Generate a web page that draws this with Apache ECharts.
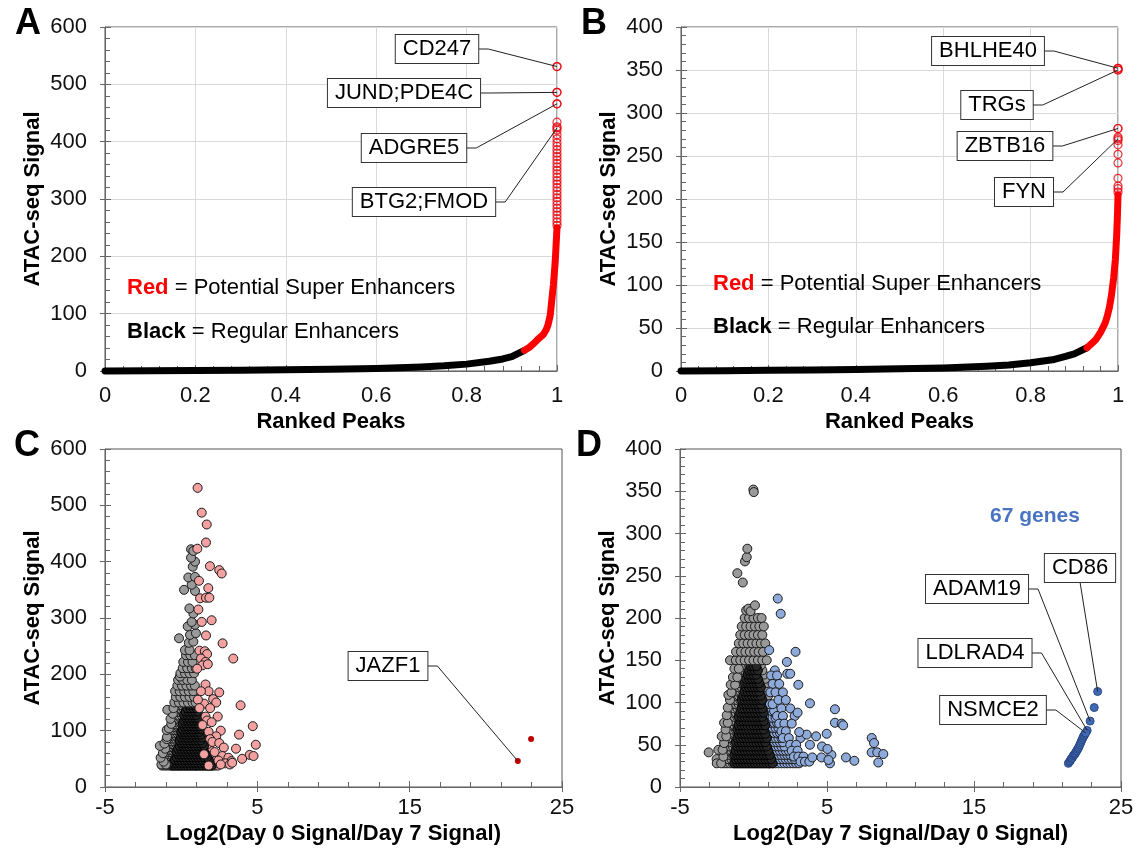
<!DOCTYPE html>
<html>
<head>
<meta charset="utf-8">
<script src="https://cdn.jsdelivr.net/npm/echarts@6/dist/echarts.min.js"></script>
<style>
html,body{margin:0;padding:0;background:#fff;}
#chart{width:1142px;height:859px;}
</style>
</head>
<body>
<div id="chart"></div>
<script>
// ---------------- DATA ----------------
// Panel A: ranked peaks curve (x = rank fraction, y = ATAC-seq signal)
const aBlack = [[0,0],[0.1,0.5],[0.2,1],[0.3,1.5],[0.4,2],[0.5,3],[0.6,4.5],[0.7,7],[0.75,9],[0.8,12],[0.85,17],[0.88,21],[0.9,25],[0.928,36]];
const aRed = [[0.928,36],[0.94,42],[0.95,49],[0.96,57],[0.97,64],[0.976,72],[0.98,80],[0.985,97],[0.988,120],[0.992,150],[0.996,190],[0.998,220],[1,250]];
const aTop = [531,486,466,434,426,420,412,405,398,392,386,380,374,368,362,356,350,344,338,332,326,320,314,308,302,296,290,284,278,272,266,260,254];
const aLabels = ['CD247','JUND;PDE4C','ADGRE5','BTG2;FMOD'];
const aLabelValues = [[1,531],[1,486],[1,466],[1,424]];

// Panel B
const bBlack = [[0,0],[0.1,0.4],[0.2,0.8],[0.3,1.2],[0.4,1.8],[0.5,2.5],[0.6,3.5],[0.7,5.5],[0.75,7],[0.8,9.5],[0.85,13],[0.88,17],[0.9,20],[0.929,27]];
const bRed = [[0.929,27],[0.94,32],[0.95,37],[0.96,45],[0.97,55],[0.975,63],[0.98,73],[0.985,88],[0.99,108],[0.994,130],[0.997,158],[0.999,185],[1,205]];
const bTop = [352,350,282,272,268,263,252,242,224,215,212,208];
const bLabels = ['BHLHE40','TRGs','ZBTB16','FYN'];
const bLabelValues = [[1,352],[1,350],[1,282],[1,270]];

// Panel C: Log2(Day0/Day7) vs signal — sparse points as [x, signal]
const cGray = [
[-1.3,40],[-1.0,40],[-1.15,45],[-1.35,52],[-1.2,60],[-1.05,68],[-1.4,73],[-1.1,77],[-0.95,85],[-0.93,89],[-0.95,101],[-0.8,104],
[-0.65,112],[-0.7,121],[-0.55,130],[-0.91,137],[-0.5,140],[-0.45,150],[-0.15,150],[0.15,150],[0.45,150],[0.75,150],[0.95,150],
[-0.35,160],[-0.05,160],[0.25,160],[0.55,160],[0.85,160],
[-0.4,170],[-0.1,170],[0.2,170],[0.5,170],[0.8,170],
[-0.25,180],[0.05,180],[0.35,180],[0.65,180],[0.9,180],
[-0.2,190],[0.1,190],[0.4,190],[0.7,190],
[-0.08,196],
[-0.05,202],[0.25,202],[0.55,202],[0.85,202],
[0.1,211],[0.4,211],[0.7,211],[0.95,211],
[0.14,222],[0.45,222],[0.75,222],
[0.32,234],[0.6,234],[0.9,234],
[0.25,243],[0.55,243],
[0.5,256],[0.8,258],
[-0.14,264],
[0.58,270],[0.97,273],
[0.43,285],[0.91,288],
[0.69,293],[0.8,308],[0.54,317],
[0.19,350],[0.91,348],[0.69,359],
[0.47,372],[0.91,373],[0.76,391],[0.91,400],[0.65,407],[0.65,422],[0.8,419]
];
// dense gray / pink bands, one row per signal level: [signal, x1, x2, ...]
const cGrayBandRows = [
[38,-1.25,-1.08,-0.91,-0.74,-0.57,-0.40,-0.23,-0.06,0.11,0.28,0.45,0.62,0.79,0.96],
[42,-1.17,-1.0,-0.83,-0.66,-0.49,-0.32,-0.15,0.02,0.19,0.36,0.53,0.7,0.87],
[46,-1.2,-1.03,-0.86,-0.69,-0.52,-0.35,-0.18,-0.01,0.16,0.33,0.5,0.67,0.84,0.98],
[50,-1.12,-0.95,-0.78,-0.61,-0.44,-0.27,-0.1,0.07,0.24,0.41,0.58,0.75,0.92],
[54,-1.05,-0.88,-0.71,-0.54,-0.37,-0.2,-0.03,0.14,0.31,0.48,0.65,0.82,0.99],
[58,-1.0,-0.83,-0.66,-0.49,-0.32,-0.15,0.02,0.19,0.36,0.53,0.7,0.87],
[62,-0.98,-0.81,-0.64,-0.47,-0.3,-0.13,0.04,0.21,0.38,0.55,0.72,0.89],
[66,-0.92,-0.75,-0.58,-0.41,-0.24,-0.07,0.1,0.27,0.44,0.61,0.78,0.95],
[71,-0.88,-0.71,-0.54,-0.37,-0.2,-0.03,0.14,0.31,0.48,0.65,0.82,0.98],
[76,-0.83,-0.66,-0.49,-0.32,-0.15,0.02,0.19,0.36,0.53,0.7,0.87],
[81,-0.78,-0.61,-0.44,-0.27,-0.1,0.07,0.24,0.41,0.58,0.75,0.92],
[86,-0.72,-0.55,-0.38,-0.21,-0.04,0.13,0.3,0.47,0.64,0.81,0.98],
[91,-0.68,-0.51,-0.34,-0.17,0.0,0.17,0.34,0.51,0.68,0.85],
[96,-0.62,-0.45,-0.28,-0.11,0.06,0.23,0.4,0.57,0.74,0.91],
[101,-0.58,-0.41,-0.24,-0.07,0.1,0.27,0.44,0.61,0.78,0.95],
[106,-0.52,-0.35,-0.18,-0.01,0.16,0.33,0.5,0.67,0.84],
[111,-0.47,-0.3,-0.13,0.04,0.21,0.38,0.55,0.72,0.89],
[116,-0.42,-0.25,-0.08,0.09,0.26,0.43,0.6,0.77,0.94],
[121,-0.36,-0.19,-0.02,0.15,0.32,0.49,0.66,0.83],
[127,-0.3,-0.13,0.04,0.21,0.38,0.55,0.72,0.89],
[133,-0.25,-0.08,0.09,0.26,0.43,0.6,0.77,0.94],
[139,-0.18,-0.01,0.16,0.33,0.5,0.67,0.84],
[145,-0.1,0.07,0.24,0.41,0.58,0.75,0.92]
];
const cPinkBandRows = [
[38,1.05,1.22,1.39,1.56,1.73,1.9,2.07,2.24,2.41],
[42,1.13,1.3,1.47,1.64,1.81,1.98,2.15,2.32],
[46,1.05,1.22,1.39,1.56,1.73,1.9,2.07,2.24],
[50,1.13,1.3,1.47,1.64,1.81,1.98,2.15],
[55,1.05,1.22,1.39,1.56,1.73,1.9,2.07],
[60,1.13,1.3,1.47,1.64,1.81,1.98],
[65,1.05,1.22,1.39,1.56,1.73,1.9],
[70,1.13,1.3,1.47,1.64,1.81],
[76,1.05,1.22,1.39,1.56,1.73],
[82,1.13,1.3,1.47,1.64],
[88,1.05,1.22,1.39,1.56],
[95,1.13,1.3,1.47],
[102,1.05,1.22,1.39],
[110,1.13,1.3],
[118,1.05,1.22]
];
// innermost, heavily overlapped part of the cloud (reads as solid black)
const cCoreRows = [
[38,-0.6,-0.4,-0.2,0.0,0.2,0.4,0.6,0.8,1.0,1.2,1.4,1.6,1.8,2.0],
[43,-0.5,-0.3,-0.1,0.1,0.3,0.5,0.7,0.9,1.1,1.3,1.5,1.7,1.9],
[48,-0.4,-0.2,0.0,0.2,0.4,0.6,0.8,1.0,1.2,1.4,1.6,1.8],
[53,-0.3,-0.1,0.1,0.3,0.5,0.7,0.9,1.1,1.3,1.5,1.7],
[58,-0.2,0.0,0.2,0.4,0.6,0.8,1.0,1.2,1.4,1.6],
[63,-0.3,-0.1,0.1,0.3,0.5,0.7,0.9,1.1,1.3,1.5],
[68,-0.2,0.0,0.2,0.4,0.6,0.8,1.0,1.2,1.4],
[73,-0.1,0.1,0.3,0.5,0.7,0.9,1.1,1.3,1.5],
[78,0.0,0.2,0.4,0.6,0.8,1.0,1.2,1.4],
[83,-0.1,0.1,0.3,0.5,0.7,0.9,1.1,1.3],
[88,0.0,0.2,0.4,0.6,0.8,1.0,1.2,1.4],
[93,0.1,0.3,0.5,0.7,0.9,1.1,1.3],
[98,0.0,0.2,0.4,0.6,0.8,1.0,1.2],
[103,0.1,0.3,0.5,0.7,0.9,1.1,1.3],
[108,0.2,0.4,0.6,0.8,1.0,1.2],
[113,0.1,0.3,0.5,0.7,0.9,1.1],
[118,0.2,0.4,0.6,0.8,1.0,1.2],
[123,0.3,0.5,0.7,0.9,1.1],
[128,0.2,0.4,0.6,0.8,1.0],
[134,0.3,0.5,0.7,0.9,1.1],
[140,0.4,0.6,0.8,1.0],
[146,0.5,0.7,0.9],
[152,0.4,0.6,0.8,1.0],
[158,0.5,0.7,0.9],
[165,0.6,0.8]
];
const cPink = [
[1.08,531],[1.35,487],[1.68,466],[1.63,434],[1.06,423],[1.89,392],[2.5,385],[2.66,379],[1.17,366],[1.78,353],[1.24,335],[1.63,336],[1.85,336],[1.13,315],[1.35,293],[2.0,296],[1.63,269],[2.72,255],[3.42,228],
[1.2,242],[1.55,241],[1.7,236],[1.3,228],[1.6,222],[1.4,216],[1.75,218],[1.05,210],[1.6,182],[1.8,170],[2.5,168],[1.3,170],[2.1,156],[2.3,150],[3.9,145],[1.5,148],[1.1,155],[1.9,140],[1.2,140],[2.4,125],[1.6,125],[1.7,118],[2.0,115],[1.4,110],[4.7,108],[2.6,100],[1.8,98],[2.3,90],[3.8,93],[1.9,85],[2.05,80],[2.5,78],[4.9,75],[2.8,70],[3.6,68],[2.2,62],[4.5,57],[4.75,55],[2.7,55],[3.1,52],[3.3,46],[4.0,50],[2.45,47],[2.9,42],[3.2,40],[2.6,40],[3.35,43],[1.5,58],[1.8,38]
];
const cFar = [[22.97,85]];
const cLabels = ['JAZF1'];
const cLabelValues = [[22.1,46]];

// Panel D: Log2(Day7/Day0) vs signal
const dGray = [
[-3.05,41],[-2.51,33],[-2.5,28],[-2.2,28],[-2.05,36],[-2.39,44],[-2.1,44],[-2.0,52],[-2.16,60],[-1.85,60],[-1.9,68],[-2.0,76],[-1.75,76],
[-1.82,85],[-1.75,94],[-1.6,103],[-1.71,109],[-1.5,112],[-1.55,121],[-1.25,121],[-1.4,130],[-1.1,130],[-1.3,140],[-1.0,140],
[-1.6,150],[-1.2,150],[-0.9,150],[-0.6,150],[-0.3,150],[0.0,150],[0.3,150],[0.6,150],[0.9,150],
[-1.19,160],[-0.85,160],[-0.55,160],[-0.25,160],[0.05,160],[0.35,160],[0.65,160],
[-1.0,170],[-0.7,170],[-0.4,170],[-0.1,170],[0.2,170],[0.5,170],[0.8,170],
[-0.9,180],[-0.6,180],[-0.3,180],[0.0,180],[0.3,180],[0.6,180],
[-0.8,190],[-0.5,190],[-0.2,190],[0.1,190],[0.4,190],[0.7,190],
[-0.6,200],[-0.3,200],[0.0,200],[0.3,200],[0.55,200],
[-0.5,209],[-0.35,211],[-0.2,208],[0.1,215],
[-0.73,242],[-1.1,253],[-0.58,267],[-0.46,272],[-0.42,282],
[-0.01,352],[0.02,349]
];
const dGrayBandRows = [
[28,-2.0,-1.8,-1.6,-1.4,-1.2,-1.0,-0.8,-0.6,-0.4,-0.2,0.0,0.2,0.4,0.6,0.8,1.0],
[33,-1.9,-1.7,-1.5,-1.3,-1.1,-0.9,-0.7,-0.5,-0.3,-0.1,0.1,0.3,0.5,0.7,0.9],
[38,-2.0,-1.8,-1.6,-1.4,-1.2,-1.0,-0.8,-0.6,-0.4,-0.2,0.0,0.2,0.4,0.6,0.8,1.0],
[43,-1.9,-1.7,-1.5,-1.3,-1.1,-0.9,-0.7,-0.5,-0.3,-0.1,0.1,0.3,0.5,0.7,0.9],
[48,-1.8,-1.6,-1.4,-1.2,-1.0,-0.8,-0.6,-0.4,-0.2,0.0,0.2,0.4,0.6,0.8,1.0],
[53,-1.7,-1.5,-1.3,-1.1,-0.9,-0.7,-0.5,-0.3,-0.1,0.1,0.3,0.5,0.7,0.9],
[58,-1.8,-1.6,-1.4,-1.2,-1.0,-0.8,-0.6,-0.4,-0.2,0.0,0.2,0.4,0.6,0.8,1.0],
[63,-1.7,-1.5,-1.3,-1.1,-0.9,-0.7,-0.5,-0.3,-0.1,0.1,0.3,0.5,0.7,0.9],
[68,-1.6,-1.4,-1.2,-1.0,-0.8,-0.6,-0.4,-0.2,0.0,0.2,0.4,0.6,0.8,1.0],
[73,-1.5,-1.3,-1.1,-0.9,-0.7,-0.5,-0.3,-0.1,0.1,0.3,0.5,0.7,0.9],
[78,-1.6,-1.4,-1.2,-1.0,-0.8,-0.6,-0.4,-0.2,0.0,0.2,0.4,0.6,0.8,1.0],
[83,-1.5,-1.3,-1.1,-0.9,-0.7,-0.5,-0.3,-0.1,0.1,0.3,0.5,0.7,0.9],
[88,-1.4,-1.2,-1.0,-0.8,-0.6,-0.4,-0.2,0.0,0.2,0.4,0.6,0.8,1.0],
[93,-1.3,-1.1,-0.9,-0.7,-0.5,-0.3,-0.1,0.1,0.3,0.5,0.7,0.9],
[98,-1.4,-1.2,-1.0,-0.8,-0.6,-0.4,-0.2,0.0,0.2,0.4,0.6,0.8,1.0],
[103,-1.3,-1.1,-0.9,-0.7,-0.5,-0.3,-0.1,0.1,0.3,0.5,0.7,0.9],
[108,-1.2,-1.0,-0.8,-0.6,-0.4,-0.2,0.0,0.2,0.4,0.6,0.8,1.0],
[113,-1.1,-0.9,-0.7,-0.5,-0.3,-0.1,0.1,0.3,0.5,0.7,0.9],
[118,-1.0,-0.8,-0.6,-0.4,-0.2,0.0,0.2,0.4,0.6,0.8],
[123,-0.9,-0.7,-0.5,-0.3,-0.1,0.1,0.3,0.5,0.7,0.9],
[128,-0.8,-0.6,-0.4,-0.2,0.0,0.2,0.4,0.6,0.8],
[133,-0.7,-0.5,-0.3,-0.1,0.1,0.3,0.5,0.7],
[138,-0.6,-0.4,-0.2,0.0,0.2,0.4,0.6],
[144,-0.5,-0.3,-0.1,0.1,0.3,0.5]
];
const dBlueBandRows = [
[28,1.1,1.3,1.5,1.7,1.9,2.1,2.3,2.5,2.7,2.9,3.1],
[33,1.2,1.4,1.6,1.8,2.0,2.2,2.4,2.6,2.8],
[38,1.1,1.3,1.5,1.7,1.9,2.1,2.3,2.5],
[43,1.2,1.4,1.6,1.8,2.0,2.2,2.4],
[48,1.1,1.3,1.5,1.7,1.9,2.1],
[53,1.2,1.4,1.6,1.8,2.0],
[58,1.1,1.3,1.5,1.7,1.9],
[64,1.2,1.4,1.6,1.8],
[70,1.1,1.3,1.5,1.7],
[76,1.2,1.4,1.6],
[82,1.1,1.3,1.5],
[90,1.2,1.4],
[98,1.1,1.3]
];
const dCoreRows = [
[28,-1.3,-1.1,-0.9,-0.7,-0.5,-0.3,-0.1,0.1,0.3,0.5,0.7,0.9,1.1,1.3],
[33,-1.2,-1.0,-0.8,-0.6,-0.4,-0.2,0.0,0.2,0.4,0.6,0.8,1.0,1.2],
[38,-1.3,-1.1,-0.9,-0.7,-0.5,-0.3,-0.1,0.1,0.3,0.5,0.7,0.9,1.1],
[43,-1.2,-1.0,-0.8,-0.6,-0.4,-0.2,0.0,0.2,0.4,0.6,0.8,1.0],
[48,-1.1,-0.9,-0.7,-0.5,-0.3,-0.1,0.1,0.3,0.5,0.7,0.9],
[53,-1.2,-1.0,-0.8,-0.6,-0.4,-0.2,0.0,0.2,0.4,0.6,0.8],
[58,-1.1,-0.9,-0.7,-0.5,-0.3,-0.1,0.1,0.3,0.5,0.7,0.9],
[63,-1.0,-0.8,-0.6,-0.4,-0.2,0.0,0.2,0.4,0.6,0.8],
[68,-1.1,-0.9,-0.7,-0.5,-0.3,-0.1,0.1,0.3,0.5,0.7],
[73,-1.0,-0.8,-0.6,-0.4,-0.2,0.0,0.2,0.4,0.6,0.8],
[78,-0.9,-0.7,-0.5,-0.3,-0.1,0.1,0.3,0.5,0.7],
[83,-1.0,-0.8,-0.6,-0.4,-0.2,0.0,0.2,0.4,0.6],
[88,-0.9,-0.7,-0.5,-0.3,-0.1,0.1,0.3,0.5,0.7],
[93,-0.8,-0.6,-0.4,-0.2,0.0,0.2,0.4,0.6],
[98,-0.7,-0.5,-0.3,-0.1,0.1,0.3,0.5],
[103,-0.8,-0.6,-0.4,-0.2,0.0,0.2,0.4,0.6],
[108,-0.7,-0.5,-0.3,-0.1,0.1,0.3,0.5],
[113,-0.6,-0.4,-0.2,0.0,0.2,0.4],
[118,-0.5,-0.3,-0.1,0.1,0.3,0.5],
[123,-0.6,-0.4,-0.2,0.0,0.2,0.4],
[128,-0.5,-0.3,-0.1,0.1,0.3],
[133,-0.4,-0.2,0.0,0.2],
[138,-0.3,-0.1,0.1,0.3],
[143,-0.2,0.0,0.2]
];
const dBlue = [
[1.65,223],[1.85,205],[1.07,162],[2.86,160],[2.27,148],
[1.45,138],[1.2,132],[1.6,132],[2.3,134],[2.5,134],[3.05,121],
[1.3,122],[1.75,122],[1.15,112],[1.5,112],[2.0,112],
[1.7,103],[2.2,103],[3.84,99],
[1.9,93],[2.5,93],
[1.6,84],[2.0,84],[2.8,84],[3.0,88],
[1.75,75],[2.1,75],[2.6,75],
[1.9,66],[2.2,66],
[2.0,58],[2.4,58],[3.2,58],
[2.5,50],[2.9,50],
[2.6,43],[3.0,43],
[2.75,36],[3.05,36],[3.4,36],
[3.2,30],[3.5,30],[3.8,30],
[5.54,92],[5.54,76],[6.0,75],[6.1,73],[5.3,38],[5.2,28],[6.29,35],[6.86,31],[8.04,58],[8.2,52],[8.04,41],[8.42,41],[8.83,39],[8.49,29],
[4.26,60],[4.98,63],[3.62,62],[3.11,65],[3.84,50],[4.66,48],[5.03,45],[4.0,35],[4.62,35],[5.1,32]
];
const dFar = [[21.42,28],[21.5,30],[21.55,31],[21.6,33],[21.65,34],[21.7,35],[21.75,37],[21.8,38],[21.85,39],[21.9,40],[21.95,42],[22.0,43],[22.05,45],[22.1,46],[22.15,48],[22.2,50],[22.25,52],[22.3,54],[22.35,56],[22.4,58],[22.45,60],[22.5,61],[22.55,63],[23.18,94]];
const dLabels = ['CD86','ADAM19','LDLRAD4','NSMCE2'];
const dLabelValues = [[23.41,113],[22.9,78],[22.7,67],[22.6,64]];

// axis ranges per panel: [xMin, xMax, xInterval, yMin, yMax, yInterval]
const axisRanges = [[0,1,0.2,0,600,100],[0,1,0.2,0,400,50],[-5,25,10,0,600,100],[-5,25,10,0,400,50]];

// expand [signal, x...] rows into [x, signal] pairs
function rowsToPairs(rows) {
  const out = [];
  rows.forEach(r => { for (let i = 1; i < r.length; i++) out.push([r[i], r[0]]); });
  return out;
}

// ---------------- LAYOUT / STYLE ----------------
const FONT = "'Liberation Sans', Arial, Helvetica, sans-serif";
const FS = 22;
const boxLayout = {
  A: {centers: [[437,49],[404,93],[414,148],[424,202]], sides: ['right','right','right','right']},
  B: {centers: [[988,51],[997,105],[1005,146],[1024,192]], sides: ['right','right','right','right']},
  C: {centers: [[388,666]], sides: ['right']},
  D: {centers: [[1080,568],[977,589],[975,653],[993,710]], sides: ['bottom','right','right','right']}
};
const measureCtx = document.createElement('canvas').getContext('2d');
measureCtx.font = FS + 'px ' + FONT;
const PADX = 7, PADY = 3;
const AXIS_COLOR = '#666';

const chart = echarts.init(document.getElementById('chart'), null, {renderer: 'canvas'});

function xAxisCfg(grid, name, split, nameGap, margin) {
  const r = axisRanges[grid];
  return {
    gridIndex: grid, type: 'value', min: r[0], max: r[1], interval: r[2], position: 'bottom',
    name: name, nameLocation: 'middle', nameGap: nameGap,
    nameTextStyle: {fontFamily: FONT, fontSize: FS, fontWeight: 'bold', color: '#000'},
    axisLine: {show: true, onZero: false, lineStyle: {color: AXIS_COLOR, width: 1}},
    axisTick: {show: true, inside: true, length: 6, lineStyle: {color: AXIS_COLOR}},
    minorTick: {show: true, splitNumber: 5, length: 5, lineStyle: {color: AXIS_COLOR}},
    splitLine: {show: split, lineStyle: {color: '#d9d9d9', width: 1}},
    axisLabel: {fontFamily: FONT, fontSize: FS, color: '#111', margin: margin, showMinLabel: true, showMaxLabel: true}
  };
}
function yAxisCfg(grid, split) {
  const r = axisRanges[grid];
  return {
    gridIndex: grid, type: 'value', min: r[3], max: r[4], interval: r[5], position: 'left',
    name: 'ATAC-seq Signal', nameLocation: 'middle', nameGap: 61, nameRotate: 90,
    nameTextStyle: {fontFamily: FONT, fontSize: FS, fontWeight: 'bold', color: '#000'},
    axisLine: {show: true, onZero: false, lineStyle: {color: AXIS_COLOR, width: 1}},
    axisTick: {show: true, inside: true, length: 6, lineStyle: {color: AXIS_COLOR}},
    minorTick: {show: true, splitNumber: 5, length: 5, lineStyle: {color: AXIS_COLOR}},
    splitLine: {show: split, lineStyle: {color: '#d9d9d9', width: 1}},
    axisLabel: {fontFamily: FONT, fontSize: FS, color: '#111', margin: 18, showMinLabel: true, showMaxLabel: true}
  };
}
// companion axes that only draw the outward half of the major ticks
function outerTicks(grid, dim) {
  const r = axisRanges[grid];
  const cfg = {
    gridIndex: grid, type: 'value', silent: true, offset: 0,
    axisLine: {show: false, onZero: false}, axisLabel: {show: false}, splitLine: {show: false}, minorTick: {show: false},
    axisTick: {show: true, inside: false, length: 5, lineStyle: {color: AXIS_COLOR}}
  };
  if (dim === 'x') { cfg.min = r[0]; cfg.max = r[1]; cfg.interval = r[2]; cfg.position = 'bottom'; }
  else { cfg.min = r[3]; cfg.max = r[4]; cfg.interval = r[5]; cfg.position = 'left'; }
  return cfg;
}

function curve(grid, data, color) {
  return {type: 'line', xAxisIndex: grid, yAxisIndex: grid, data: data, showSymbol: false, symbol: 'none',
    clip: false, lineStyle: {color: color, width: 7, cap: 'round', join: 'round'}, z: 3, silent: true, animation: false};
}
function hollow(grid, data, size) {
  return {type: 'scatter', xAxisIndex: grid, yAxisIndex: grid, data: data, symbol: 'circle', symbolSize: size || 8,
    clip: false, itemStyle: {color: 'rgba(255,255,255,0)', borderColor: '#e8000b', borderWidth: 1.2}, z: 4, silent: true, animation: false};
}
function dots(grid, data, fill, size, border) {
  return {type: 'scatter', xAxisIndex: grid, yAxisIndex: grid, data: data, symbol: 'circle', symbolSize: size,
    clip: false, large: false, itemStyle: {color: fill, borderColor: border || '#1a1a1a', borderWidth: border === 'none' ? 0 : 1, opacity: 1}, z: 4, silent: true, animation: false};
}
function labelSeries(grid, key, names, values) {
  const layout = boxLayout[key];
  return {
    type: 'custom', xAxisIndex: grid, yAxisIndex: grid, coordinateSystem: 'cartesian2d', clip: false, z: 10, silent: true, animation: false,
    data: values,
    renderItem: function (params, api) {
      const i = params.dataIndex;
      const pt = api.coord([api.value(0), api.value(1)]);
      const c = layout.centers[i];
      const text = names[i];
      const w = measureCtx.measureText(text).width + 2 * PADX;
      const h = FS + 2 * PADY;
      let pts;
      if (layout.sides[i] === 'right') {
        const ex = c[0] + w / 2;
        pts = [[ex, c[1]], [ex + 10, c[1]], pt];
      } else {
        pts = [[c[0], c[1] + h / 2], pt];
      }
      return {
        type: 'group', children: [
          {type: 'polyline', shape: {points: pts}, style: {stroke: '#222', lineWidth: 1, fill: null}},
          {type: 'text', x: c[0], y: c[1], style: {text: text, font: FS + 'px ' + FONT, fill: '#000', align: 'center', verticalAlign: 'middle',
            lineHeight: FS, backgroundColor: '#fff', borderColor: '#333', borderWidth: 1, padding: [PADY, PADX]}}
        ]
      };
    }
  };
}

const toXY = (vals) => vals.map(v => [1, v]);
const LETTER = 'bold 36px ' + FONT;
const CORE_FILL = '#262626';

const option = {
  backgroundColor: '#fff',
  animation: false,
  grid: [
    {left: 105, top: 27, width: 452, height: 344, show: true, borderColor: '#555', borderWidth: 1, backgroundColor: 'transparent'},
    {left: 681, top: 27, width: 437, height: 344, show: true, borderColor: '#555', borderWidth: 1, backgroundColor: 'transparent'},
    {left: 105, top: 449, width: 457, height: 338, show: true, borderColor: '#555', borderWidth: 1, backgroundColor: 'transparent'},
    {left: 680, top: 449, width: 441, height: 338, show: true, borderColor: '#555', borderWidth: 1, backgroundColor: 'transparent'}
  ],
  xAxis: [
    xAxisCfg(0, 'Ranked Peaks', true, 40, 14),
    xAxisCfg(1, 'Ranked Peaks', true, 40, 14),
    xAxisCfg(2, 'Log2(Day 0 Signal/Day 7 Signal)', false, 36, 10),
    xAxisCfg(3, 'Log2(Day 7 Signal/Day 0 Signal)', false, 36, 10),
    outerTicks(2, 'x'), outerTicks(3, 'x')
  ],
  yAxis: [
    yAxisCfg(0, true),
    yAxisCfg(1, true),
    yAxisCfg(2, false),
    yAxisCfg(3, false),
    outerTicks(0, 'y'), outerTicks(1, 'y'), outerTicks(2, 'y'), outerTicks(3, 'y')
  ],
  graphic: [
    {type: 'text', x: 28, y: 24, style: {text: 'A', font: LETTER, fill: '#000', align: 'center', verticalAlign: 'middle'}},
    {type: 'text', x: 594, y: 24, style: {text: 'B', font: LETTER, fill: '#000', align: 'center', verticalAlign: 'middle'}},
    {type: 'text', x: 27, y: 446, style: {text: 'C', font: LETTER, fill: '#000', align: 'center', verticalAlign: 'middle'}},
    {type: 'text', x: 589, y: 446, style: {text: 'D', font: LETTER, fill: '#000', align: 'center', verticalAlign: 'middle'}},
    {type: 'text', x: 127, y: 288, z: 20, style: {text: '{r|Red} = Potential Super Enhancers', font: FS + 'px ' + FONT, fill: '#000', verticalAlign: 'middle',
      rich: {r: {fill: '#ff0000', fontWeight: 'bold', fontSize: FS, fontFamily: FONT}}}},
    {type: 'text', x: 127, y: 332, z: 20, style: {text: '{b|Black} = Regular Enhancers', font: FS + 'px ' + FONT, fill: '#000', verticalAlign: 'middle',
      rich: {b: {fill: '#000', fontWeight: 'bold', fontSize: FS, fontFamily: FONT}}}},
    {type: 'text', x: 713, y: 284, z: 20, style: {text: '{r|Red} = Potential Super Enhancers', font: FS + 'px ' + FONT, fill: '#000', verticalAlign: 'middle',
      rich: {r: {fill: '#ff0000', fontWeight: 'bold', fontSize: FS, fontFamily: FONT}}}},
    {type: 'text', x: 713, y: 327, z: 20, style: {text: '{b|Black} = Regular Enhancers', font: FS + 'px ' + FONT, fill: '#000', verticalAlign: 'middle',
      rich: {b: {fill: '#000', fontWeight: 'bold', fontSize: FS, fontFamily: FONT}}}},
    {type: 'text', x: 1035, y: 516, z: 20, style: {text: '67 genes', font: 'bold 21px ' + FONT, fill: '#4a74c2', align: 'center', verticalAlign: 'middle'}}
  ],
  series: [
    curve(0, aBlack, '#000'),
    curve(0, aRed, '#ff0000'),
    hollow(0, toXY(aTop)),
    hollow(0, aLabelValues),
    labelSeries(0, 'A', aLabels, aLabelValues),

    curve(1, bBlack, '#000'),
    curve(1, bRed, '#ff0000'),
    hollow(1, toXY(bTop)),
    hollow(1, bLabelValues),
    labelSeries(1, 'B', bLabels, bLabelValues),

    dots(2, rowsToPairs(cGrayBandRows), '#999999', 9),
    dots(2, rowsToPairs(cPinkBandRows), '#f2a0a0', 9),
    dots(2, rowsToPairs(cCoreRows), CORE_FILL, 9, '#000'),
    dots(2, cGray, '#999999', 9),
    dots(2, cPink, '#f2a0a0', 9),
    dots(2, cFar, '#c00000', 6, 'none'),
    dots(2, cLabelValues, '#c00000', 6, 'none'),
    labelSeries(2, 'C', cLabels, cLabelValues),

    dots(3, rowsToPairs(dGrayBandRows), '#999999', 9),
    dots(3, rowsToPairs(dBlueBandRows), '#8eaadb', 9),
    dots(3, rowsToPairs(dCoreRows), CORE_FILL, 9, '#000'),
    dots(3, dGray, '#999999', 9),
    dots(3, dBlue, '#8eaadb', 9),
    dots(3, dFar, '#4169b4', 8, '#2a4a88'),
    dots(3, dLabelValues, '#4169b4', 8, '#2a4a88'),
    labelSeries(3, 'D', dLabels, dLabelValues)
  ]
};
chart.setOption(option);
</script>
</body>
</html>
